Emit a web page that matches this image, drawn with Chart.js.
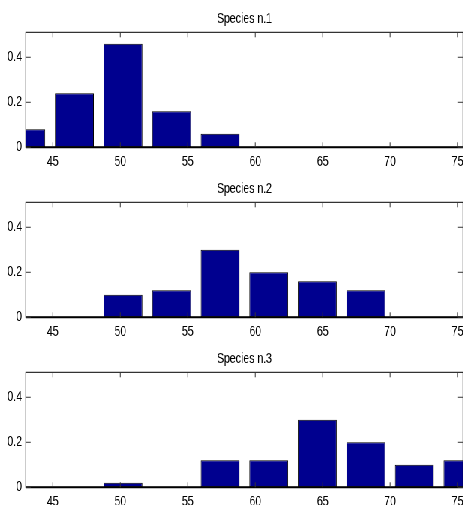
<!DOCTYPE html>
<html>
<head>
<meta charset="utf-8">
<script src="https://cdn.jsdelivr.net/npm/chart.js@4"></script>
<style>
  html, body { margin: 0; padding: 0; overflow: hidden; background: #fff; }
  /* the figure is drawn wide, then squeezed sideways like the reference */
  #fig { width: 624px; height: 505px; transform: scaleX(0.75); transform-origin: 0 0; }
  canvas { display: block; }
</style>
</head>
<body>
<div id="fig">
  <canvas id="sp1" width="624" height="170"></canvas>
  <canvas id="sp2" width="624" height="170"></canvas>
  <canvas id="sp3" width="624" height="170"></canvas>
</div>
<script>
/* =====================================
   DATA
===================================== */

const binCenters = [43, 46.6, 50.2, 53.8, 57.4, 61, 64.6, 68.2, 71.8, 75.4];

const species1 = [0.08, 0.24, 0.46, 0.16, 0.06, 0, 0, 0, 0, 0];
const species2 = [0, 0, 0.10, 0.12, 0.30, 0.20, 0.16, 0.12, 0, 0];
const species3 = [0, 0, 0.02, 0, 0.12, 0.12, 0.30, 0.20, 0.10, 0.12];

const titles = ["Species n.1", "Species n.2", "Species n.3"];

const xTicks = [45, 50, 55, 60, 65, 70, 75];
const yTicks = [0, 0.2, 0.4];

/* ==========================
   BOX + INWARD TICKS
========================== */

const axesBox = {
    id: "axesBox",
    afterDatasetsDraw(chart) {
        const ctx = chart.ctx;
        const a = chart.chartArea;
        const x = chart.scales.x;
        const y = chart.scales.y;

        ctx.save();
        ctx.strokeStyle = "#000";
        ctx.lineWidth = 1;
        ctx.strokeRect(a.left, a.top, a.right - a.left, a.bottom - a.top);

        // baseline is heavier (zero bars sit on it)
        ctx.lineWidth = 2;
        ctx.beginPath();
        ctx.moveTo(a.left, a.bottom);
        ctx.lineTo(a.right, a.bottom);
        ctx.stroke();

        ctx.lineWidth = 1;
        ctx.strokeStyle = "#333";
        ctx.beginPath();
        x.ticks.forEach(t => {
            const px = x.getPixelForValue(t.value);
            ctx.moveTo(px, a.bottom); ctx.lineTo(px, a.bottom - 5);
            ctx.moveTo(px, a.top);    ctx.lineTo(px, a.top + 5);
        });
        y.ticks.forEach(t => {
            const py = y.getPixelForValue(t.value);
            ctx.moveTo(a.left, py);  ctx.lineTo(a.left + 6.5, py);
            ctx.moveTo(a.right, py); ctx.lineTo(a.right - 6.5, py);
        });
        ctx.stroke();
        ctx.restore();
    }
};

/* ==========================
   CHARTS
========================== */

Chart.defaults.font.family = "'Liberation Sans', Arial, Helvetica, sans-serif";
Chart.defaults.font.size = 14;
Chart.defaults.color = "#000";

function makeChart(id, title, values) {

    new Chart(document.getElementById(id), {

        type: "bar",

        data: {
            datasets: [{
                data: binCenters.map((c, i) => ({ x: c, y: values[i] })),
                backgroundColor: "#00008f",
                borderColor: "#000",
                borderWidth: 1,
                borderSkipped: false,
                barPercentage: 0.8,
                categoryPercentage: 1,
                clip: 0
            }]
        },

        options: {
            responsive: false,
            animation: false,
            devicePixelRatio: 1,
            layout: { padding: { left: 0, right: 3.6, top: 0, bottom: 0 } },
            plugins: {
                legend: { display: false },
                tooltip: { enabled: false },
                title: {
                    display: true,
                    text: title,
                    fullSize: false,
                    color: "#000",
                    font: { size: 14, weight: "normal" },
                    padding: { top: 10.6, bottom: 4.9 }
                }
            },
            scales: {
                x: {
                    type: "linear",
                    min: 43,
                    max: 75.4,
                    offset: false,
                    grid: { display: false, drawTicks: false },
                    border: { display: false },
                    ticks: {
                        autoSkip: false,
                        maxRotation: 0,
                        padding: 6,
                        callback: v => String(v)
                    },
                    afterBuildTicks: s => { s.ticks = xTicks.map(v => ({ value: v })); },
                    afterFit: s => { s.height = 22.7; }
                },
                y: {
                    min: 0,
                    max: 0.511,
                    grid: { display: false, drawTicks: false },
                    border: { display: false },
                    ticks: {
                        padding: 5,
                        callback: v => (v === 0 ? "0" : v.toFixed(1))
                    },
                    afterBuildTicks: s => { s.ticks = yTicks.map(v => ({ value: v })); },
                    afterFit: s => { s.width = 34.3; }
                }
            }
        },

        plugins: [axesBox]

    });

}

makeChart("sp1", titles[0], species1);
makeChart("sp2", titles[1], species2);
makeChart("sp3", titles[2], species3);
</script>
</body>
</html>
